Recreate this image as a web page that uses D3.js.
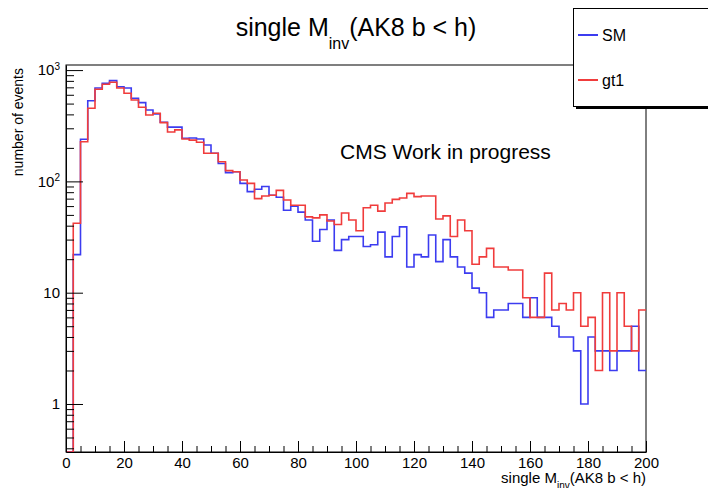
<!DOCTYPE html>
<html>
<head>
<meta charset="utf-8">
<script src="https://cdn.jsdelivr.net/npm/d3@7"></script>
<style>
  html, body { margin: 0; padding: 0; background: #fff; }
  svg { display: block; font-family: "Liberation Sans", Arial, Helvetica, sans-serif; }
</style>
</head>
<body>
<svg id="chart" width="708" height="488"></svg>
<script>
// ---------------- data ----------------
const binLow = 0, binHigh = 200, binWidth = 2.5;
const seriesNames = ["SM", "gt1"];
const smCounts = [
  0, 22, 239, 531, 691, 761, 804, 709, 691, 558,
  510, 438, 403, 340, 307, 307, 244, 245, 240, 212,
  179, 145, 120, 122, 96, 81, 85, 90, 75, 72,
  55, 60, 53, 45, 29, 37, 45, 24, 30, 32,
  32, 26, 27, 35, 21, 32, 39, 17, 22, 21,
  33, 19, 30, 21, 17, 15, 11, 10, 6, 7,
  7, 8, 8, 6, 9, 6, 6, 5, 4, 4,
  3, 1, 4, 3, 3, 2, 3, 3, 5, 2
];
const gt1Counts = [
  0, 42, 227, 454, 672, 745, 777, 691, 619, 539,
  463, 395, 409, 337, 278, 290, 240, 235, 225, 179,
  179, 150, 125, 122, 103, 96, 70, 74, 75, 83,
  68, 61, 61, 48, 47, 50, 44, 41, 52, 45,
  36, 58, 61, 54, 64, 69, 71, 78, 73, 74,
  74, 46, 49, 32, 45, 36, 18, 21, 25, 17,
  17, 16, 16, 9, 6, 6, 15, 7, 8, 7,
  10, 5, 6, 2, 10, 3, 10, 5, 3, 7
];
const xTickValues = [0, 20, 40, 60, 80, 100, 120, 140, 160, 180, 200];
const yMajorTicks = [1, 10, 100, 1000];
const yTickBase = ["1", "10", "10", "10"];
const yTickExp = ["", "", "2", "3"];
const titleMain = "single M", titleSub = "inv", titleRest = "(AK8 b < h)";
const yTitle = "number of events";
const annotation = "CMS Work in progress";
const colors = ["#3c3cf0", "#f03c3c"];

// ---------------- layout ----------------
const svg = d3.select("#chart");
const L = 66, R = 646, T = 65, B = 452;
const x = d3.scaleLinear().domain([binLow, binHigh]).range([L, R]);
const y = d3.scaleLog().domain([0.3704, 1111]).range([B, T]);

// frame
svg.append("rect").attr("x", L).attr("y", T).attr("width", R - L).attr("height", B - T)
  .attr("fill", "none").attr("stroke", "#000").attr("stroke-width", 1);

svg.append("clipPath").attr("id", "clip").append("rect")
  .attr("x", L).attr("y", T).attr("width", R - L).attr("height", B - T);

// histograms
function histPath(counts) {
  const p = d3.path();
  p.moveTo(x(binLow), B);
  counts.forEach((v, i) => {
    const lo = binLow + i * binWidth, hi = lo + binWidth;
    const yy = v > 0 ? y(v) : B;
    p.lineTo(x(lo), yy);
    p.lineTo(x(hi), yy);
  });
  return p.toString();
}
[smCounts, gt1Counts].forEach((c, k) => {
  svg.append("path").attr("d", histPath(c)).attr("fill", "none")
    .attr("stroke", colors[k]).attr("stroke-width", 1.6)
    .attr("stroke-linejoin", "miter").attr("clip-path", "url(#clip)");
});

// x axis
const xMinor = d3.range(binLow, binHigh + 0.001, 5).filter(v => v % 20 !== 0);
const gx = svg.append("g").attr("transform", `translate(0,${B})`)
  .call(d3.axisBottom(x).tickValues(xTickValues).tickSize(-11).tickSizeOuter(0).tickPadding(5).tickFormat(d3.format("d")));
gx.select(".domain").attr("stroke", "#000");
gx.selectAll("text").attr("font-size", 15).attr("fill", "#000").attr("font-family", "Liberation Sans, Arial, sans-serif");
const gxm = svg.append("g").attr("transform", `translate(0,${B})`)
  .call(d3.axisBottom(x).tickValues(xMinor).tickSize(-6).tickSizeOuter(0).tickFormat(""));
gxm.select(".domain").remove();

// y axis
const yMinor = [];
[0.1, 1, 10, 100, 1000].forEach(d => { for (let m = 2; m <= 9; m++) { const v = d * m; if (v >= 0.3704 && v <= 1111) yMinor.push(v); } });
const gy = svg.append("g").attr("transform", `translate(${L},0)`)
  .call(d3.axisLeft(y).tickValues(yMajorTicks).tickSize(-17).tickSizeOuter(0).tickPadding(6).tickFormat(() => ""));
gy.select(".domain").attr("stroke", "#000");
gy.selectAll(".tick text").each(function(d, i) {
  const t = d3.select(this).attr("font-size", 15).attr("fill", "#000")
    .attr("font-family", "Liberation Sans, Arial, sans-serif");
  t.append("tspan").text(yTickBase[i]);
  if (yTickExp[i]) t.append("tspan").attr("dy", "-0.55em").attr("font-size", 10).text(yTickExp[i]);
});
const gym = svg.append("g").attr("transform", `translate(${L},0)`)
  .call(d3.axisLeft(y).tickValues(yMinor).tickSize(-8).tickSizeOuter(0).tickFormat(""));
gym.select(".domain").remove();

// title
const title = svg.append("text").attr("x", 356).attr("y", 36).attr("text-anchor", "middle")
  .attr("font-size", 25).attr("fill", "#000");
title.append("tspan").text(titleMain);
title.append("tspan").attr("dy", 13).attr("font-size", 16).text(titleSub);
title.append("tspan").attr("dy", -13).text(titleRest);

// x title
const xt = svg.append("text").attr("x", R).attr("y", 483).attr("text-anchor", "end")
  .attr("font-size", 15).attr("fill", "#000");
xt.append("tspan").text(titleMain);
xt.append("tspan").attr("dy", 6).attr("font-size", 10).text(titleSub);
xt.append("tspan").attr("dy", -6).text(titleRest);

// y title
svg.append("text").attr("transform", `translate(23,68) rotate(-90)`).attr("text-anchor", "end")
  .attr("font-size", 14).attr("fill", "#000").text(yTitle);

// annotation
svg.append("text").attr("x", 340).attr("y", 159).attr("font-size", 21).attr("fill", "#000").text(annotation);

// legend
svg.append("rect").attr("x", 576).attr("y", 11).attr("width", 140).attr("height", 98).attr("fill", "#000");
svg.append("rect").attr("x", 573.5).attr("y", 8.5).attr("width", 140).attr("height", 98)
  .attr("fill", "#fff").attr("stroke", "#000").attr("stroke-width", 1);
seriesNames.forEach((n, k) => {
  const yy = k === 0 ? 35 : 80;
  svg.append("line").attr("x1", 578).attr("x2", 598).attr("y1", yy).attr("y2", yy)
    .attr("stroke", colors[k]).attr("stroke-width", 2);
  svg.append("text").attr("x", 602).attr("y", yy + 6).attr("font-size", 16).attr("fill", "#000").text(n);
});
</script>
</body>
</html>
